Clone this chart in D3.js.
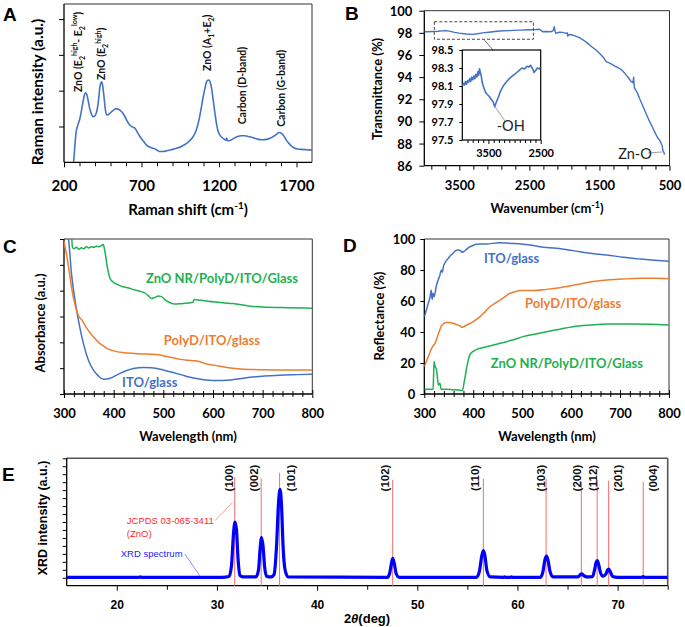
<!DOCTYPE html>
<html><head><meta charset="utf-8">
<script src="https://cdn.jsdelivr.net/npm/d3@7"></script>
<style>
body{margin:0;background:#fff;}
svg{display:block;}
</style></head><body>
<svg id="chart" width="685" height="627"></svg>
<script>
// ---------------- DATA ----------------
// A: Raman
const ramanShift = [262,270,277,290,303,315,325,333,340,348,357,365,372,380,389,400,411,422,432,438,443,448,458,466,475,485,497,515,535,555,572,590,604,620,636,650,658,672,690,710,733,755,776,797,819,840,862,890,926,960,991,1015,1034,1050,1066,1082,1098,1110,1120,1128,1135,1142,1152,1163,1174,1185,1195,1206,1217,1232,1245,1250,1254,1265,1280,1300,1320,1345,1367,1390,1410,1430,1453,1480,1507,1530,1550,1570,1588,1600,1614,1630,1646,1668,1689,1710,1732,1765,1800];
const ramanIntensity = [0,0.45,0.81,1.05,1.23,1.5,1.74,1.9,1.94,1.88,1.7,1.52,1.41,1.32,1.27,1.3,1.41,1.7,2.11,2.22,2.25,2.18,1.83,1.5,1.32,1.33,1.37,1.44,1.5,1.47,1.41,1.3,1.18,1.06,1.0,0.97,0.95,0.85,0.72,0.6,0.48,0.42,0.39,0.35,0.3,0.3,0.32,0.35,0.39,0.45,0.53,0.62,0.72,0.86,1.09,1.43,1.83,2.08,2.25,2.29,2.3,2.25,2.07,1.72,1.37,1.05,0.86,0.76,0.7,0.65,0.62,0.68,0.6,0.6,0.63,0.68,0.72,0.74,0.74,0.72,0.7,0.67,0.64,0.63,0.64,0.67,0.72,0.78,0.83,0.82,0.76,0.65,0.55,0.45,0.39,0.37,0.36,0.35,0.34];
const ramanTicks = [200,700,1200,1700];
const ramanLabels = [
  {x:316, y:1.96, parts:[["ZnO (E"],["2","sub"],["high","sup"],["- E"],["2","sub"],["low","sup"],[")"]]},
  {x:465, y:2.30, parts:[["ZnO (E"],["2","sub"],["high","sup"],[")"]]},
  {x:1151, y:2.55, parts:[["ZnO (A"],["1","sub"],["+E"],["2","sub"],[")"]]},
  {x:1377, y:1.06, parts:[["Carbon (D-band)"]]},
  {x:1623, y:0.99, parts:[["Carbon (G-band)"]]}
];

// B: FTIR
const ftirWavenumber = [4000,3950,3881,3800,3750,3690,3640,3571,3500,3405,3310,3240,3167,3050,2929,2800,2643,2500,2405,2357,2330,2310,2260,2214,2180,2160,2145,2135,2120,2080,2024,2000,1976,1960,1952,1940,1881,1840,1786,1730,1667,1610,1548,1476,1440,1405,1370,1333,1280,1214,1160,1119,1080,1048,1020,1012,1005,1000,960,929,880,833,785,738,700,667,640,619,605,595,580,571];
const ftirTransmittance = [98.1,98.1,98.12,98.15,98.18,98.2,98.15,98.04,97.97,97.9,97.86,97.92,98.0,98.08,98.16,98.2,98.25,98.28,98.3,98.32,98.2,98.1,98.12,98.1,98.12,98.2,98.55,98.2,97.95,98.05,98.04,98.0,97.95,98.0,97.7,97.85,97.8,97.7,97.56,97.35,97.05,96.75,96.45,96.0,95.75,95.4,95.3,95.2,95.0,94.8,94.5,94.2,93.9,93.6,93.5,94.0,93.3,93.0,92.6,92.1,91.4,90.7,90.0,89.4,88.9,88.5,88.3,88.0,87.8,87.4,87.2,87.0];
const ftirYTicks = [86,88,90,92,94,96,98,100];
const ftirXTicks = [3500,2500,1500,500];
const insetWavenumber = [4000,3980,3960,3940,3920,3900,3880,3860,3840,3820,3800,3780,3760,3740,3720,3700,3687,3670,3654,3640,3622,3600,3576,3545,3511,3480,3446,3415,3380,3350,3315,3270,3217,3150,3087,3020,2957,2900,2859,2810,2761,2730,2696,2663,2645,2630,2600,2565,2530,2500];
const insetTransmittance = [98.10,98.13,98.11,98.15,98.12,98.16,98.14,98.18,98.15,98.2,98.17,98.21,98.18,98.23,98.2,98.26,98.22,98.29,98.25,98.22,98.15,98.1,98.06,98.02,98.0,97.98,97.95,97.93,97.87,97.92,97.97,98.04,98.1,98.15,98.19,98.22,98.25,98.28,98.3,98.29,98.32,98.31,98.33,98.3,98.28,98.25,98.27,98.3,98.29,98.31];
const insetYTicks = [97.5,97.7,97.9,98.1,98.3,98.5];
const insetXTicks = [3500,2500];

// C: Absorbance
const absZnoX = [300,314,317,320,325,330,335,340,345,350,355,360,365,370,375,379,382.5,386,392.6,397,403,410,419,430,440,452,464,470,476,483,490,496,505,515,522,530,540,550,560,561,563,570,580,600,620,640,674,700,750,800];
const absZnoY = [7.0,6.6,5.68,5.62,5.68,5.6,5.66,5.62,5.7,5.65,5.7,5.68,5.72,5.7,5.74,5.79,5.5,5.06,4.48,4.36,4.28,4.22,4.15,4.1,4.04,3.98,3.9,3.8,3.7,3.74,3.79,3.77,3.62,3.52,3.48,3.49,3.5,3.52,3.55,3.62,3.66,3.64,3.62,3.57,3.53,3.5,3.4,3.37,3.34,3.32];
const absPolyX = [300,305,309,315,320,325,330,336,346,359,372,380,386,395,406,420,440,460,473,493,507,520,534,550,560,570,587,600,628,650,674,700,742,800];
const absPolyY = [5.9,5.4,4.93,4.15,3.64,3.25,3.0,2.86,2.54,2.22,1.96,1.85,1.77,1.7,1.64,1.6,1.57,1.55,1.54,1.51,1.45,1.4,1.34,1.31,1.29,1.27,1.16,1.12,1.03,0.98,0.95,0.94,0.93,0.93];
const absItoX = [300,309,315,322,329,339,349,359,369,379,386,393,403,413,425,440,460,475,487,500,520,537,554,570,587,610,628,650,674,700,742,770,800];
const absItoY = [6.5,6.0,4.67,3.64,2.86,1.96,1.32,0.93,0.70,0.57,0.58,0.61,0.7,0.8,0.9,0.99,1.03,1.02,0.99,0.93,0.83,0.74,0.65,0.59,0.54,0.52,0.53,0.58,0.65,0.69,0.74,0.75,0.76];
const absYTicks = [0,1,2,3,4,5,6];

// D: Reflectance
const refItoX = [300,305,308,312,314,316,318,320,325,332,335,337,339,344,349,354,359,364,369,374,377,380,386,392,397,407,427,455,468,485,502,520,536,570,604,639,673,707,741,770,800];
const refItoY = [49.9,55,58.5,63,67,61,65,62.8,70.3,76.8,80,78.5,82.2,85.5,87.5,89.5,90.8,92.5,92.9,92.6,91.5,91.8,93.3,94.8,95.5,96.6,96.8,97.6,97.4,97.1,96.6,95.9,95,94,92.5,90.8,89.7,88.2,87.1,86.3,85.6];
const refPolyX = [300,308,315,318,322,329,335,340,346,352,359,366,373,378,381,387,400,414,424,434,445,455,465,475,485,496,523,550,577,604,639,673,707,741,770,800];
const refPolyY = [17.6,24,29.5,31,32.7,39,43.9,45.5,46.2,46.2,45.6,44.8,43.9,43.0,43.5,44.5,46.7,49.9,53,56.3,58.7,60.6,62.8,65,66,66.7,66.7,67.5,68.6,70.1,72.3,73.5,74.2,74.6,74.6,74.4];
const refZnoX = [300,318,319,320,322,325,327,329,332,334,335,345,359,370,378,381,384,387,390,393,400,407,427,455,480,502,525,550,577,604,640,673,720,760,800];
const refZnoY = [3,3,12,20.9,18,15.5,10,5.8,6.9,3.5,3,3.1,2.8,2.6,2.2,6.9,12,17.6,22,25.2,27.5,28.8,30.5,32.7,34.8,37,38.6,40.2,41.8,43.4,44.5,45.2,45.2,45,44.5];
const refYTicks = [0,20,40,60,80,100];
const wlTicks = [300,400,500,600,700,800];

// E: XRD
const xrdTwoTheta = [15,22.2,22.35,22.5,30.5,31.2,31.45,31.65,31.8,31.95,32.1,32.3,32.6,33.9,34.15,34.3,34.45,34.6,34.75,34.95,35.4,35.7,35.95,36.15,36.3,36.45,36.6,36.8,37.1,47.0,47.25,47.45,47.55,47.7,47.9,48.2,55.9,56.2,56.45,56.6,56.75,56.95,57.3,58.6,58.7,58.8,59.3,59.4,59.5,62.3,62.55,62.75,62.9,63.05,63.25,63.55,66.0,66.25,66.4,66.6,66.9,67.5,67.7,67.85,67.97,68.1,68.3,68.55,68.85,69.0,69.1,69.25,69.5,70,72.4,72.55,72.7,75];
const xrdIntensity = [1.05,1.05,1.12,1.05,1.05,1.15,2.5,6.5,8.0,7.0,3.5,1.3,1.1,1.1,2.0,4.5,6.05,5.0,2.5,1.2,1.1,1.4,5.0,10.5,12.1,10.0,5.0,2.0,1.1,1.05,1.6,3.0,3.45,2.8,1.5,1.05,1.05,1.8,3.8,4.4,3.8,1.9,1.1,1.05,1.12,1.05,1.05,1.12,1.05,1.05,1.8,3.3,3.73,3.2,1.8,1.1,1.1,1.35,1.48,1.3,1.1,1.15,2.0,2.9,3.14,2.7,1.6,1.2,1.5,2.0,2.1,1.8,1.15,1.05,1.05,1.15,1.05,1.05];
const jcpdsPosition = [31.77,34.42,36.25,47.54,56.6,62.86,66.38,67.96,69.1,72.56];
const jcpdsTop = [13.65,13.5,14.2,13.3,13.4,13.4,13.07,13.3,13.2,13.07];
const hklLabels = ["(100)","(002)","(101)","(102)","(110)","(103)","(200)","(112)","(201)","(004)"];
const hklLabelX = [31.23,33.73,37.39,46.78,55.76,62.35,65.91,67.57,70.0,73.56];
const xrdXTicks = [20,30,40,50,60,70];

// ---------------- DRAWING ----------------
const FONT = "Lato, 'Open Sans', sans-serif";
const ARIAL = "'Liberation Sans', Arial, sans-serif";
const BLUE = "#4472c4", ORANGE = "#ed7d31", GREEN = "#1fb04f";
const svg = d3.select("#chart");
svg.append("rect").attr("width",685).attr("height",627).attr("fill","#fff");
const zip = (a,b) => a.map((v,i)=>[v,b[i]]);
let clipId = 0;

function frame(x, y, opts={}) {
  const [x0,x1] = x.range(), [y0,y1] = y.range();
  const g = svg.append("g");
  g.append("line").attr("x1",x0).attr("x2",x1).attr("y1",y1).attr("y2",y1).attr("stroke",opts.frameColor||"#333").attr("stroke-width",opts.frameWidth||1);
  g.append("line").attr("x1",x1).attr("x2",x1).attr("y1",y0).attr("y2",y1).attr("stroke",opts.frameColor||"#333").attr("stroke-width",opts.frameWidth||1);
  g.append("line").attr("x1",x0).attr("x2",x1).attr("y1",y0).attr("y2",y0).attr("stroke","#000").attr("stroke-width",1.3);
  g.append("line").attr("x1",x0).attr("x2",x0).attr("y1",y0).attr("y2",y1).attr("stroke","#000").attr("stroke-width",1.3);
  return g;
}
function clip(x, y) {
  const id = "clip"+(clipId++);
  const [x0,x1] = x.range(), [y0,y1] = y.range();
  svg.append("clipPath").attr("id",id).append("rect")
    .attr("x",Math.min(x0,x1)).attr("y",Math.min(y0,y1)).attr("width",Math.abs(x1-x0)).attr("height",Math.abs(y1-y0));
  return "url(#"+id+")";
}
function xAxis(scale, ypos, majors, minors, o) {
  const g = svg.append("g").attr("transform",`translate(0,${ypos})`);
  if (minors) {
    const gm = g.append("g").call(d3.axisBottom(scale).tickValues(minors).tickSize(o.minorLen).tickFormat(""));
    gm.select(".domain").remove();
    gm.selectAll(".tick line").attr("stroke","#000").attr("y1", o.cross ? -o.minorLen : 0);
  }
  const ga = g.append("g").call(d3.axisBottom(scale).tickValues(majors).tickSize(o.majorLen).tickFormat(o.fmt || (d=>d)));
  ga.select(".domain").remove();
  ga.selectAll(".tick line").attr("stroke","#000").attr("y1", o.cross ? -o.majorLen : 0);
  ga.selectAll(".tick text").attr("y", o.labelY).attr("dy", null)
    .style("font-family", o.font || FONT).style("font-size", o.size+"px")
    .style("font-weight", o.weight || "bold").attr("fill","#000");
  if (o.noLabels) ga.selectAll(".tick text").remove();
  return g;
}
function yAxis(scale, xpos, ticks, o) {
  const g = svg.append("g").attr("transform",`translate(${xpos},0)`);
  const ga = g.append("g").call(d3.axisLeft(scale).tickValues(ticks).tickSize(o.len).tickFormat(o.fmt || (d=>d)));
  ga.select(".domain").remove();
  ga.selectAll(".tick line").attr("stroke","#000");
  if (o.noLabels) ga.selectAll(".tick text").remove();
  else ga.selectAll(".tick text").attr("x", o.labelX).attr("dy","0.35em")
    .style("font-family", o.font || FONT).style("font-size", o.size+"px")
    .style("font-weight","bold").attr("fill","#000");
  return g;
}
function title(x, y, text, size, rotate, font, weight) {
  const t = svg.append("text").attr("text-anchor","middle")
    .attr("transform", `translate(${x},${y})` + (rotate ? " rotate(-90)" : ""))
    .style("font-family", font || FONT).style("font-size", size+"px").style("font-weight", weight||"bold").attr("fill","#000");
  return t;
}
function letter(x, y, s) {
  svg.append("text").attr("x",x).attr("y",y).text(s)
    .style("font-family",ARIAL).style("font-size","19px").style("font-weight","bold");
}
function series(x, y, xs, ys, color, width, cp, curve) {
  const line = d3.line().x(d=>x(d[0])).y(d=>y(d[1])).curve(curve || d3.curveMonotoneX);
  svg.append("path").datum(zip(xs,ys)).attr("d",line).attr("fill","none")
    .attr("stroke",color).attr("stroke-width",width).attr("stroke-linejoin","round").attr("clip-path",cp);
}

// ===== Panel A =====
{
  const x = d3.scaleLinear().domain([200,1800]).range([64,312]);
  const y = d3.scaleLinear().domain([0,4.42]).range([162.3,4]);
  frame(x,y);
  yAxis(y, 64, [1,2,3,4], {len:5, noLabels:true});
  xAxis(x, 162.3, ramanTicks, d3.range(300,1800,100).filter(v=>!ramanTicks.includes(v)), {majorLen:5, minorLen:4, labelY:28.5, size:15});
  series(x, y, ramanShift, ramanIntensity, BLUE, 1.6, clip(x,y));
  ramanLabels.forEach(l => {
    const t = svg.append("text").attr("transform",`translate(${x(l.x)},${y(l.y)}) rotate(-90)`)
      .style("font-family",FONT).style("font-size","10.5px").style("font-weight","bold").attr("fill","#111");
    let off = 0;
    l.parts.forEach(p => {
      let target = p[1]==="sub" ? 3 : p[1]==="sup" ? -4.5 : 0;
      const ts = t.append("tspan").text(p[0]).attr("dy", target - off);
      if (p[1]) ts.style("font-size","7px");
      off = target;
    });
  });
  title(188, 215, "", 15).text("Raman shift (cm").append("tspan").text("-1").attr("dy",-6).style("font-size","10px");
  svg.select("text:last-of-type");
  const tt = svg.selectAll("text").filter(function(){return this.textContent.startsWith("Raman shift");});
  tt.append("tspan").text(")").attr("dy",6);
  title(43, 92, "Raman intensity (a.u.)", 15.5, true).text("Raman intensity (a.u.)");
  letter(3, 21, "A");
}

// ===== Panel B =====
{
  const x = d3.scaleLinear().domain([4000,500]).range([424.3,669.5]);
  const y = d3.scaleLinear().domain([86,100]).range([165.7,10.7]);
  frame(x,y);
  yAxis(y, 424.3, ftirYTicks, {len:5, labelX:-12, size:13});
  xAxis(x, 165.7, ftirXTicks, d3.range(3900,500,-200).filter(v=>!ftirXTicks.includes(v)), {majorLen:5, minorLen:4, labelY:24.5, size:13});
  series(x, y, ftirWavenumber, ftirTransmittance, BLUE, 1.4, clip(x,y), d3.curveLinear);
  // dashed zoom box
  const bx0 = 3857, bx1 = 2443, by0 = 97.42, by1 = 99.0;
  svg.append("rect").attr("x",x(bx0)).attr("y",y(by1)).attr("width",x(bx1)-x(bx0)).attr("height",y(by0)-y(by1))
    .attr("fill","none").attr("stroke","#444").attr("stroke-dasharray","3,2").attr("stroke-width",1);
  svg.append("defs").append("marker").attr("id","arr").attr("viewBox","0 0 10 10").attr("refX",9).attr("refY",5)
    .attr("markerWidth",6).attr("markerHeight",6).attr("orient","auto")
    .append("path").attr("d","M0,0 L10,5 L0,10 z").attr("fill","#111");
  svg.append("line").attr("x1",x(3147)).attr("y1",y(97.4)).attr("x2",x(2961)).attr("y2",y(96.0))
    .attr("stroke","#555").attr("stroke-width",0.8).attr("marker-end","url(#arr)");
  // Zn-O
  svg.append("line").attr("x1",x(805)).attr("y1",y(87.15)).attr("x2",x(600)).attr("y2",y(87.24)).attr("stroke","#888").attr("stroke-width",0.8);
  svg.append("text").attr("x",x(1233)).attr("y",y(86.6)).text("Zn-O")
    .style("font-family",FONT).style("font-size","14.5px").attr("fill","#222");
  // inset
  const xi = d3.scaleLinear().domain([4000,2500]).range([462.3,540.7]);
  const yi = d3.scaleLinear().domain([97.5,98.5]).range([140,50]);
  svg.append("rect").attr("x",462.3).attr("y",50).attr("width",78.4).attr("height",90).attr("fill","#fff");
  svg.append("rect").attr("x",462.3).attr("y",50).attr("width",78.4).attr("height",90).attr("fill","none").attr("stroke","#000").attr("stroke-width",1.2);
  yAxis(yi, 462.3, insetYTicks, {len:3, labelX:-9, size:11, fmt:d3.format(".1f")});
  xAxis(xi, 140, insetXTicks, d3.range(3900,2500,-100).filter(v=>!insetXTicks.includes(v)), {majorLen:4, minorLen:3, labelY:16.5, size:11});
  series(xi, yi, insetWavenumber, insetTransmittance, BLUE, 1.6, clip(xi,yi), d3.curveLinear);
  svg.append("line").attr("x1",xi(3374)).attr("y1",yi(97.87)).attr("x2",xi(3183)).attr("y2",yi(97.71)).attr("stroke","#888").attr("stroke-width",0.8);
  svg.append("text").attr("x",xi(3342)).attr("y",yi(97.6)).text("-OH")
    .style("font-family",FONT).style("font-size","14.5px").attr("fill","#222");
  const tb = title(547, 213, "", 13);
  tb.text("Wavenumber (cm");
  tb.append("tspan").text("-1").attr("dy",-5).style("font-size","9px");
  tb.append("tspan").text(")").attr("dy",5);
  title(382, 89, "", 13, true).text("Transmittance (%)");
  letter(345, 20, "B");
}

// ===== Panel C =====
{
  const x = d3.scaleLinear().domain([300,800]).range([64,312.3]);
  const y = d3.scaleLinear().domain([0,6]).range([394,239]);
  frame(x,y);
  yAxis(y, 64, absYTicks, {len:4, noLabels:true});
  xAxis(x, 394, wlTicks, d3.range(320,800,20).filter(v=>!wlTicks.includes(v)), {majorLen:4, minorLen:3, cross:true, labelY:24, size:13});
  const cp = clip(x,y);
  series(x, y, absItoX, absItoY, BLUE, 1.5, cp);
  series(x, y, absPolyX, absPolyY, ORANGE, 1.5, cp);
  series(x, y, absZnoX, absZnoY, GREEN, 1.5, cp);
  const lab = (wl, v, s, c) => svg.append("text").attr("x",x(wl)).attr("y",y(v)).text(s)
    .style("font-family",FONT).style("font-size","13px").style("font-weight","bold").attr("fill",c);
  lab(465, 4.3, "ZnO NR/PolyD/ITO/Glass", GREEN);
  lab(501, 1.9, "PolyD/ITO/glass", ORANGE);
  lab(417, 0.28, "ITO/glass", BLUE);
  title(188, 441, "", 13).text("Wavelength (nm)");
  title(45, 323, "", 13, true).text("Absorbance (a.u.)");
  letter(3, 253, "C");
}

// ===== Panel D =====
{
  const x = d3.scaleLinear().domain([300,800]).range([424.3,669]);
  const y = d3.scaleLinear().domain([0,100]).range([394,239]);
  frame(x,y);
  yAxis(y, 424.3, refYTicks, {len:4, labelX:-9, size:13});
  xAxis(x, 394, wlTicks, d3.range(320,800,20).filter(v=>!wlTicks.includes(v)), {majorLen:4, minorLen:3, cross:true, labelY:24, size:13});
  const cp = clip(x,y);
  series(x, y, refItoX, refItoY, BLUE, 1.5, cp);
  series(x, y, refPolyX, refPolyY, ORANGE, 1.5, cp);
  series(x, y, refZnoX, refZnoY, GREEN, 1.5, cp);
  const lab = (wl, v, s, c) => svg.append("text").attr("x",x(wl)).attr("y",y(v)).text(s)
    .style("font-family",FONT).style("font-size","13px").style("font-weight","bold").attr("fill",c);
  lab(422, 84.5, "ITO/glass", BLUE);
  lab(506, 55.5, "PolyD/ITO/glass", ORANGE);
  lab(436, 16.8, "ZnO NR/PolyD/ITO/Glass", GREEN);
  title(547, 441, "", 13).text("Wavelength (nm)");
  title(384, 316, "", 13, true).text("Reflectance (%)");
  letter(343, 252, "D");
}

// ===== Panel E =====
{
  const x = d3.scaleLinear().domain([15,75]).range([66.7,667.7]);
  const y = d3.scaleLinear().domain([0,16]).range([585.7,458.3]);
  frame(x,y,{frameColor:"#555", frameWidth:1.6});
  yAxis(y, 66.7, d3.range(1,17,1), {len:4, noLabels:true});
  xAxis(x, 585.7, xrdXTicks, [25,35,45,55,65,75], {majorLen:5, minorLen:4, labelY:23, size:12, font:ARIAL});
  const cp = clip(x,y);
  // JCPDS lines
  svg.append("g").selectAll("line").data(jcpdsPosition).join("line")
    .attr("x1",d=>x(d)).attr("x2",d=>x(d)).attr("y1",y(0)).attr("y2",(d,i)=>y(jcpdsTop[i]))
    .attr("stroke","#f27b7b").attr("stroke-width",1.1);
  series(x, y, xrdTwoTheta, xrdIntensity, "#0000ff", 3.2, cp);
  svg.append("g").selectAll("text").data(hklLabels).join("text")
    .attr("transform",(d,i)=>`translate(${x(hklLabelX[i])+4},478) rotate(-90)`)
    .attr("text-anchor","middle").text(d=>d)
    .style("font-family",ARIAL).style("font-size","11.5px").style("font-weight","bold").attr("fill","#111");
  // annotations
  svg.append("line").attr("x1",x(29.8)).attr("y1",y(8.17)).attr("x2",x(31.56)).attr("y2",y(10.43)).attr("stroke","#f27b7b").attr("stroke-width",0.8);
  svg.append("text").attr("x",x(21.0)).attr("y",y(7.75)).text("JCPDS 03-065-3411")
    .style("font-family",ARIAL).style("font-size","9.5px").attr("fill","#ff2a2a");
  svg.append("text").attr("x",x(21.0)).attr("y",y(6.12)).text("(ZnO)")
    .style("font-family",ARIAL).style("font-size","9.5px").attr("fill","#ff2a2a");
  svg.append("line").attr("x1",x(26.8)).attr("y1",y(3.98)).attr("x2",x(28.3)).attr("y2",y(1.22)).attr("stroke","#7070ff").attr("stroke-width",0.8);
  svg.append("text").attr("x",x(20.4)).attr("y",y(3.64)).text("XRD spectrum")
    .style("font-family",ARIAL).style("font-size","9.5px").attr("fill","#1a1aff");
  const te = title(367, 623, "", 13, false, ARIAL);
  te.append("tspan").text("2");
  te.append("tspan").text("θ").style("font-style","italic");
  te.append("tspan").text("(deg)");
  title(47, 518, "", 12.5, true, ARIAL).text("XRD intensity (a.u.)");
  letter(2, 481, "E");
}
</script>
</body></html>
